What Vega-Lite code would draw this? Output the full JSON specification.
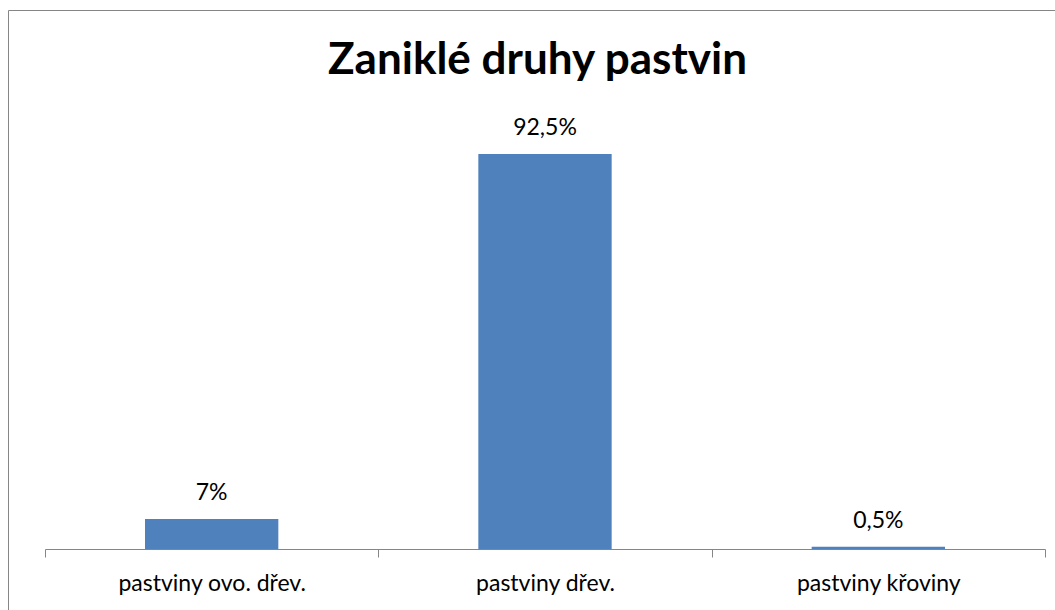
{
  "$schema": "https://vega.github.io/schema/vega-lite/v6.json",
  "autosize": {"type": "none"},
  "width": 1049,
  "height": 602,
  "padding": {"left": 8, "top": 10, "right": -2, "bottom": -2},
  "background": "white",
  "title": {
    "text": "Zaniklé druhy pastvin",
    "font": "Lato",
    "fontSize": 44,
    "fontWeight": "bold",
    "color": "#000000",
    "anchor": "start",
    "dx": 320,
    "baseline": "alphabetic",
    "offset": -108
  },
  "data": {
    "values": [
      {"kategorie": "pastviny ovo. dřev.", "podil": 0.07},
      {"kategorie": "pastviny dřev.", "podil": 0.925},
      {"kategorie": "pastviny křoviny", "podil": 0.005}
    ]
  },
  "encoding": {
    "x": {
      "field": "kategorie",
      "type": "nominal",
      "sort": null,
      "scale": {"range": [37, 1037], "paddingInner": 0, "paddingOuter": 0},
      "axis": {
        "title": null,
        "labelAngle": 0,
        "labelFont": "Lato",
        "labelFontSize": 23,
        "labelColor": "#000000",
        "labelBaseline": "alphabetic",
        "labelPadding": 33,
        "labelLimit": 0,
        "tickBand": "extent",
        "tickSize": 8,
        "tickColor": "#868686",
        "domainColor": "#868686",
        "offset": -63
      }
    },
    "y": {
      "field": "podil",
      "type": "quantitative",
      "scale": {"domain": [0, 1], "range": [539, 112]},
      "axis": null
    }
  },
  "layer": [
    {
      "mark": {"type": "bar", "color": "#4F81BD", "width": {"band": 0.4}}
    },
    {
      "mark": {
        "type": "text",
        "font": "Lato",
        "fontSize": 23,
        "color": "#000000",
        "baseline": "alphabetic",
        "dy": -19
      },
      "encoding": {
        "text": {"field": "podil", "type": "quantitative", "format": ".1~%"}
      }
    }
  ],
  "config": {
    "locale": {
      "number": {
        "decimal": ",",
        "thousands": " ",
        "grouping": [3],
        "currency": ["", " Kč"]
      }
    },
    "view": {"stroke": "#868686", "strokeWidth": 1}
  }
}
